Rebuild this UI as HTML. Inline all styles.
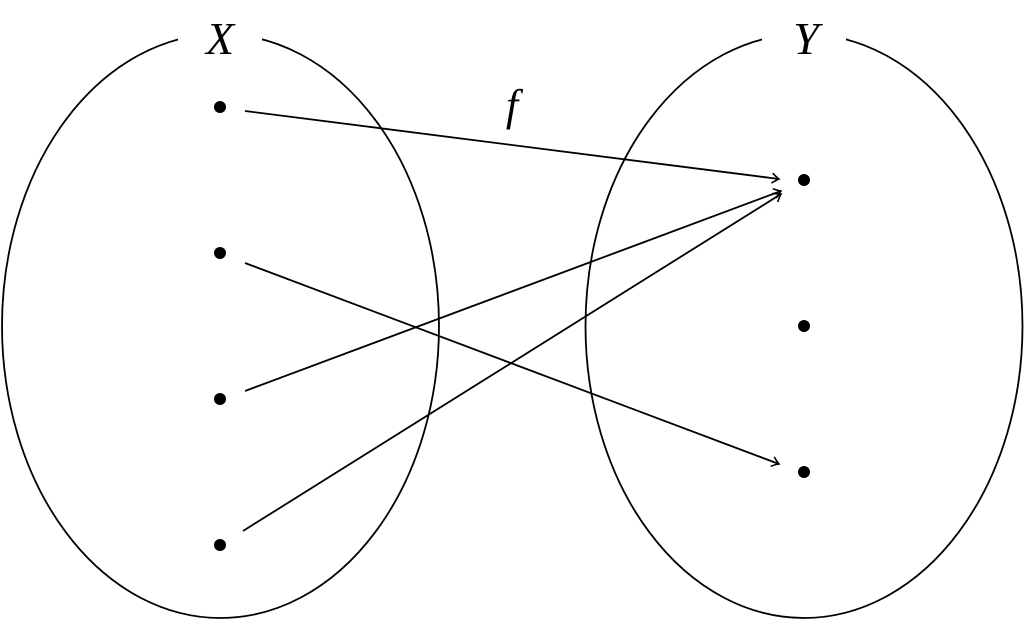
<!DOCTYPE html>
<html><head><style>html,body{margin:0;padding:0;background:#fff;}svg{display:block}</style></head>
<body>
<svg width="1024" height="620" viewBox="0 0 1024 620" xmlns="http://www.w3.org/2000/svg">
<defs>
<marker id="a" viewBox="-8 -6 10 12" markerWidth="10" markerHeight="12" refX="0" refY="0" orient="auto" markerUnits="userSpaceOnUse">
<path d="M-7,-5 Q-2,-1 0,0 Q-2,1 -7,5" fill="none" stroke="#000" stroke-width="1.6"/>
</marker>
</defs>
<g fill="none" stroke="#000" stroke-width="1.8">
<ellipse cx="220.5" cy="326" rx="218.5" ry="292"/>
<ellipse cx="804" cy="326" rx="218.5" ry="292"/>
</g>
<rect x="178" y="15" width="84" height="40" fill="#fff"/>
<rect x="762" y="15" width="84" height="40" fill="#fff"/>
<g font-family="Liberation Serif, serif" font-style="italic" font-size="46" text-anchor="middle">
<text x="220" y="54">X</text>
<text x="806" y="54">Y</text>
<text x="512" y="120" font-size="44">f</text>
</g>
<g fill="#000">
<circle cx="220" cy="107" r="6"/><circle cx="220" cy="253" r="6"/>
<circle cx="220" cy="399" r="6"/><circle cx="220" cy="545" r="6"/>
<circle cx="804" cy="180" r="6"/><circle cx="804" cy="326" r="6"/>
<circle cx="804" cy="472" r="6"/>
</g>
<g stroke="#000" stroke-width="1.8" fill="none" marker-end="url(#a)">
<line x1="245" y1="111" x2="779" y2="179"/>
<line x1="245" y1="263" x2="779" y2="464"/>
<line x1="245" y1="391" x2="781" y2="191"/>
<line x1="243" y1="531" x2="781" y2="194"/>
</g>
</svg>
</body></html>
